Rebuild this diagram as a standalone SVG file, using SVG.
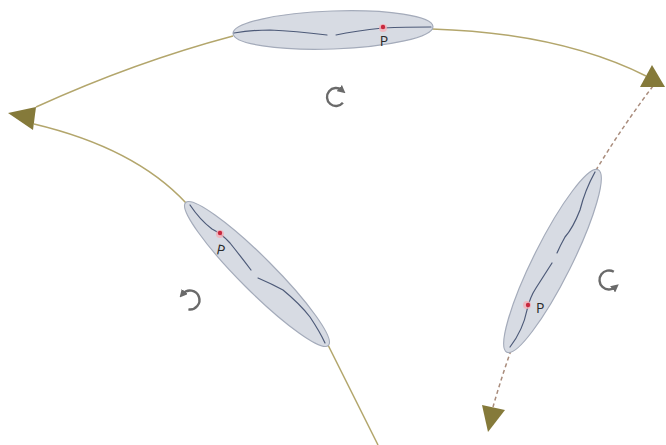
<svg xmlns="http://www.w3.org/2000/svg" width="666" height="445" viewBox="0 0 666 445">
<style>
.arc{fill:none;stroke:#b3a66c;stroke-width:1.5}
.dash{fill:none;stroke:#a98c7c;stroke-width:1.5;stroke-dasharray:4 3}
.arrow{fill:#857a3a}
.body{fill:#d7dbe3;stroke:#a4abba;stroke-width:1.2}
.axis{fill:none;stroke:#4d5a78;stroke-width:1.2;stroke-linejoin:round;stroke-linecap:round}
.halo{fill:#f4b0b8;opacity:0.8}
.pt{fill:#c8283e}
.lbl{font-family:"Open Sans","Liberation Sans",sans-serif;font-size:14px;fill:#2a2a2a}
.rot{fill:none;stroke:#6a6a6a;stroke-width:2.4}
</style>
<defs>
<marker id="rh" viewBox="0 0 10 10" refX="4" refY="5" markerWidth="8" markerHeight="8" markerUnits="userSpaceOnUse" orient="auto">
<path d="M0,0 L10,5 L0,10 z" fill="#6a6a6a"/>
</marker>
</defs>
<g id="connectors">
<path class="arc" d="M233,36 Q135,62 36,107"/>
<path class="arc" d="M432,29 Q560,33 646,76"/>
<path class="arc" d="M186,203 Q135,148 34,124"/>
<path class="arc" d="M328,345 Q348,385 378,445"/>
<path class="dash" d="M653,86 A975 975 0 0 0 493,407"/>
<polygon class="arrow" points="8,113 36,107 33,130"/>
<polygon class="arrow" points="665,87 652,65 640,87"/>
<polygon class="arrow" points="488,432 482,405 505,410"/>
</g>
<g id="top-body">
<ellipse class="body" cx="333" cy="30" rx="100" ry="19" transform="rotate(-2 333 30)"/>
<path class="axis" d="M234,33 Q252,30 270,30 Q295,31 327,35 M336,35 Q355,31 383,28 Q405,27 431,27"/>
<circle class="halo" cx="383" cy="28" r="4"/>
<circle class="pt" cx="383" cy="27" r="2.2"/>
<text class="lbl" x="384" y="46" text-anchor="middle">P</text>
</g>
<g id="left-body">
<ellipse class="body" cx="257" cy="274" rx="101" ry="17" transform="rotate(45 257 274)"/>
<path class="axis" d="M190,205 Q200,220 212,229 Q222,234 230,243 Q242,258 251,270 M258,278 Q272,284 283,290 Q300,304 310,317 Q320,332 325,343"/>
<circle class="halo" cx="220" cy="234" r="4"/>
<circle class="pt" cx="220" cy="233" r="2.2"/>
<text class="lbl" x="221" y="255" text-anchor="middle" transform="rotate(12 221 250)">P</text>
</g>
<g id="right-body">
<ellipse class="body" cx="552.5" cy="261" rx="102" ry="19" transform="rotate(-63.4 552.5 261)"/>
<path class="axis" d="M595,172 Q585,190 580,210 Q573,228 565,237 Q560,246 557,253 M552,263 Q545,274 536,288 Q530,297 527,310 Q523,330 510,347"/>
<circle class="halo" cx="527" cy="305" r="4"/>
<circle class="pt" cx="528" cy="305" r="2.2"/>
<text class="lbl" x="536" y="313">P</text>
</g>
<g id="rotation-icons">
<path class="rot" d="M342.9,102.8 A9 9 0 1 1 341.8,90.1" marker-end="url(#rh)"/>
<path class="rot" d="M188.4,309.4 A9.5 9.5 0 1 0 182.7,293.9" marker-end="url(#rh)"/>
<path class="rot" d="M613.8,271.8 A9.5 9.5 0 1 0 615.1,287.3" marker-end="url(#rh)"/>
</g>
</svg>
